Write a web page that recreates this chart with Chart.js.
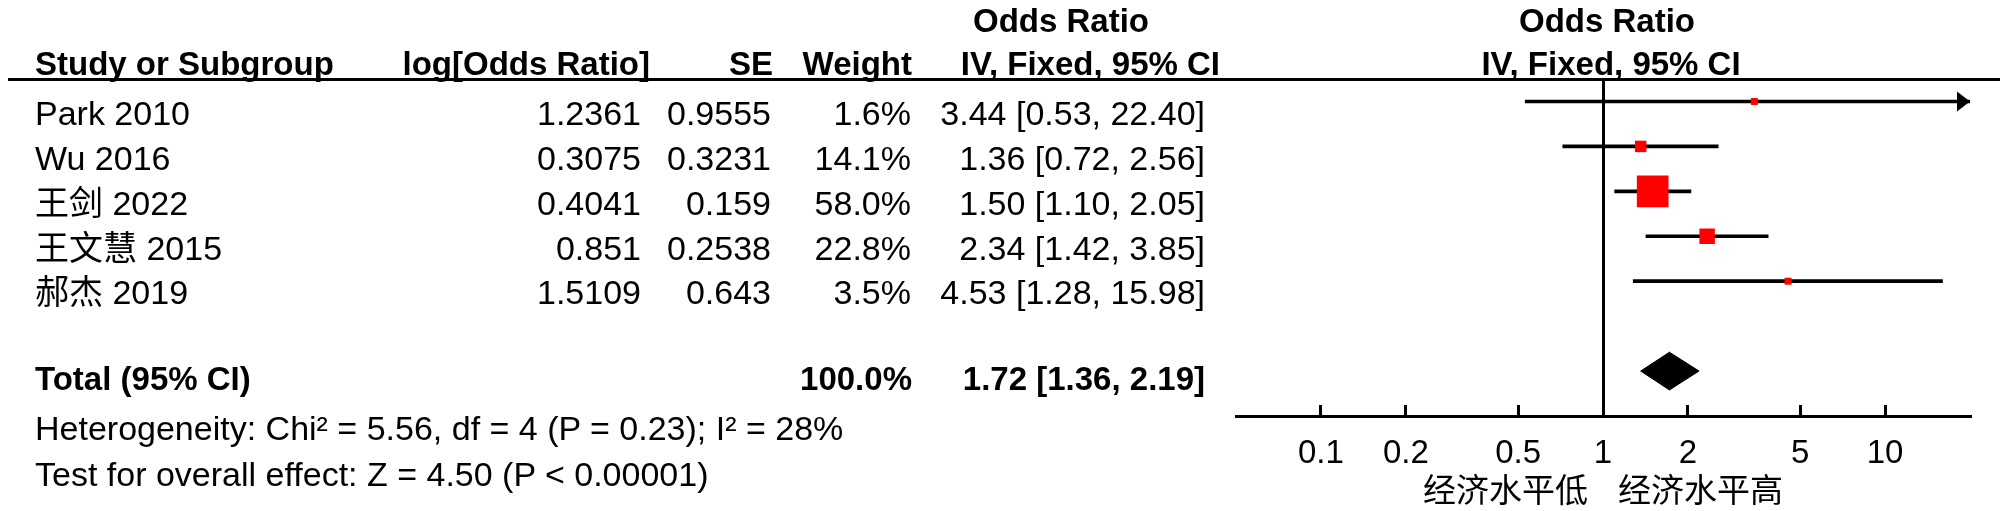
<!DOCTYPE html>
<html>
<head>
<meta charset="utf-8">
<script src="https://cdn.jsdelivr.net/npm/chart.js@4/dist/chart.umd.min.js"></script>
<style>
html, body { margin: 0; padding: 0; background: #fff; }
#wrap { position: relative; width: 2000px; height: 511px; overflow: hidden;
        font-family: "Liberation Sans", Arial, "Noto Sans CJK SC", sans-serif; font-size: 34px; color: #000; }
#plot { position: absolute; left: 0; top: 0; }
.t { position: absolute; line-height: 34px; white-space: nowrap; }
.b { font-weight: bold; font-size: 33px; }
.hline { position: absolute; left: 8px; right: 0; top: 78px; height: 3px; background: #000; }
</style>
</head>
<body>
<div id="wrap">
  <canvas id="plot" width="2000" height="511"></canvas>
  <div class="hline"></div>
</div>
<script>
// data
const studies = ["Park 2010", "Wu 2016", "王剑 2022", "王文慧 2015", "郝杰 2019"];
const logOR = [1.2361, 0.3075, 0.4041, 0.851, 1.5109];
const se = [0.9555, 0.3231, 0.159, 0.2538, 0.643];
const weight = [1.6, 14.1, 58.0, 22.8, 3.5];
const orEst = [3.44, 1.36, 1.50, 2.34, 4.53];
const orLow = [0.53, 0.72, 1.10, 1.42, 1.28];
const orHigh = [22.40, 2.56, 2.05, 3.85, 15.98];
const totalWeight = 100.0;
const totalOR = [1.72, 1.36, 2.19]; // est, low, high
const xTicks = [0.1, 0.2, 0.5, 1, 2, 5, 10];
const xMin = 0.05, xMax = 20;
const heterogeneity = "Heterogeneity: Chi² = 5.56, df = 4 (P = 0.23); I² = 28%";
const overallEffect = "Test for overall effect: Z = 4.50 (P < 0.00001)";
const favourLeft = "经济水平低";
const favourRight = "经济水平高";

const wrap = document.getElementById('wrap');
const totalRow = studies.length + 1;

// table text
function put(txt, x, y, align, bold) {
    const d = document.createElement('div');
    d.className = 't' + (bold ? ' b' : '');
    d.textContent = txt;
    d.style.top = (y - 17) + 'px';
    if (align === 'right') d.style.right = (2000 - x) + 'px';
    else if (align === 'center') { d.style.left = x + 'px'; d.style.transform = 'translateX(-50%)'; }
    else d.style.left = x + 'px';
    wrap.appendChild(d);
}
const ciText = (e, l, h) => e.toFixed(2) + ' [' + l.toFixed(2) + ', ' + h.toFixed(2) + ']';

put("Odds Ratio", 1061, 21, 'center', true);
put("Odds Ratio", 1607, 21, 'center', true);
put("Study or Subgroup", 35, 64, 'left', true);
put("log[Odds Ratio]", 650, 64, 'right', true);
put("SE", 773, 64, 'right', true);
put("Weight", 912, 64, 'right', true);
put("IV, Fixed, 95% CI", 1220, 64, 'right', true);
put("IV, Fixed, 95% CI", 1611, 64, 'center', true);

const textRows = [113, 158, 203, 248, 292];
studies.forEach((s, i) => {
    const y = textRows[i];
    put(s, 35, y, 'left');
    put(String(logOR[i]), 641, y, 'right');
    put(String(se[i]), 771, y, 'right');
    put(weight[i].toFixed(1) + '%', 911, y, 'right');
    put(ciText(orEst[i], orLow[i], orHigh[i]), 1205, y, 'right');
});
put("Total (95% CI)", 35, 379, 'left', true);
put(totalWeight.toFixed(1) + '%', 912, 379, 'right', true);
put(ciText(totalOR[0], totalOR[1], totalOR[2]), 1205, 379, 'right', true);
put(heterogeneity, 35, 428, 'left');
put(overallEffect, 35, 474, 'left');

// square side grows with weight
const sideFor = w => Math.max(7, 5 + 0.46 * w);
const dh = 0.42; // half height of the diamond in row units

// arrow for CIs running off the scale, and the favour labels
const extras = {
    id: 'extras',
    afterDatasetsDraw(chart) {
        const c = chart.ctx, xs = chart.scales.x, ys = chart.scales.y;
        c.save();
        c.fillStyle = '#000';
        orHigh.forEach((h, i) => {
            if (h > xMax) {
                const px = xs.getPixelForValue(xMax), py = ys.getPixelForValue(i);
                c.beginPath();
                c.moveTo(px, py);
                c.lineTo(px - 13, py - 10);
                c.lineTo(px - 13, py + 10);
                c.closePath();
                c.fill();
            }
        });
        const p1 = xs.getPixelForValue(1);
        c.font = '33px "Noto Sans CJK SC", sans-serif';
        c.textBaseline = 'middle';
        c.textAlign = 'right';
        c.fillText(favourLeft, p1 - 15, 489);
        c.textAlign = 'left';
        c.fillText(favourRight, p1 + 15, 489);
        c.restore();
    }
};

new Chart(document.getElementById('plot').getContext('2d'), {
    data: {
        datasets: [
            {
                type: 'bar',
                indexAxis: 'y',
                data: studies.map((s, i) => ({ x: [orLow[i], orHigh[i]], y: i })),
                backgroundColor: '#000',
                barThickness: 3,
                order: 2
            },
            {
                type: 'scatter',
                data: studies.map((s, i) => ({ x: orEst[i], y: i })),
                pointStyle: 'rect',
                pointRadius: ctx => sideFor(weight[ctx.dataIndex]) / Math.SQRT2,
                pointBackgroundColor: '#ff0000',
                pointBorderWidth: 0,
                order: 1
            },
            {
                type: 'scatter',
                showLine: true,
                data: [
                    { x: totalOR[1], y: totalRow },
                    { x: totalOR[0], y: totalRow - dh },
                    { x: totalOR[2], y: totalRow },
                    { x: totalOR[0], y: totalRow + dh },
                    { x: totalOR[1], y: totalRow }
                ],
                borderColor: '#000',
                backgroundColor: '#000',
                borderWidth: 1,
                pointRadius: 0,
                fill: 'shape',
                tension: 0,
                order: 1
            }
        ]
    },
    options: {
        responsive: false,
        animation: false,
        layout: { padding: { left: 1236, right: 30, top: 79, bottom: 0 } },
        plugins: { legend: { display: false }, tooltip: { enabled: false } },
        scales: {
            x: {
                type: 'logarithmic',
                position: 'bottom',
                min: xMin,
                max: xMax,
                afterBuildTicks: s => { s.ticks = xTicks.map(v => ({ value: v })); },
                afterFit: s => { s.height = 95; },
                ticks: {
                    autoSkip: false,
                    maxRotation: 0,
                    padding: 29,
                    color: '#000',
                    font: { family: '"Liberation Sans", Arial, sans-serif', size: 33 },
                    callback: v => String(v)
                },
                grid: {
                    drawOnChartArea: true,
                    color: c => (c.tick && c.tick.value === 1) ? '#000' : 'rgba(0,0,0,0)',
                    lineWidth: 3,
                    tickLength: -11,
                    tickColor: '#000',
                    tickWidth: 3
                },
                border: { display: true, color: '#000', width: 3 }
            },
            y: {
                type: 'linear',
                display: false,
                reverse: true,
                offset: false,
                min: -0.5,
                max: 7.0
            }
        }
    },
    plugins: [extras]
});
</script>
</body>
</html>
